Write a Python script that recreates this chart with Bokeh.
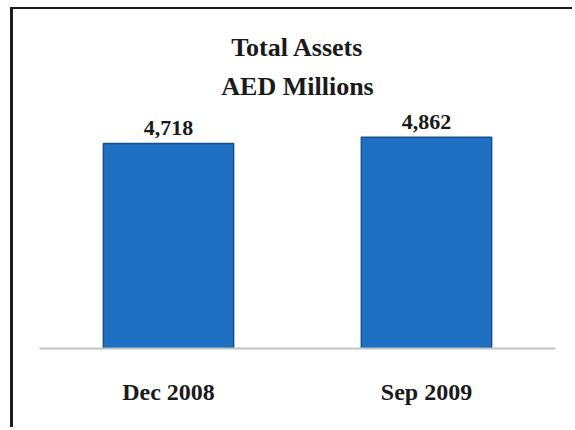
from bokeh.plotting import figure
from bokeh.models import ColumnDataSource, Range1d, Title, FactorRange
from bokeh.embed import file_html
from bokeh.resources import INLINE

categories = ["Dec 2008", "Sep 2009"]
values = [4718, 4862]
value_labels = ["4,718", "4,862"]

src = ColumnDataSource(dict(cat=categories, val=values, lab=value_labels))

FONT = "Liberation Serif"

p = figure(x_range=FactorRange(*categories, range_padding=0), y_range=Range1d(0, 5615),
           width=562, height=420, output_backend="svg", toolbar_location=None,
           min_border_left=26, min_border_right=20, min_border_top=95, min_border_bottom=81)
p.styles = {"border-left": "3px solid #1c1c1c", "border-top": "2px solid #1c1c1c",
            "margin-left": "10px", "margin-top": "7px"}

p.title.text = "Total Assets"
p.title.align = "center"
p.title.text_font = FONT
p.title.text_font_size = "26px"
p.title.text_font_style = "bold"
p.title.text_color = "#1a1a1a"
p.title.standoff = 8
p.add_layout(Title(text="AED Millions", align="center", text_font=FONT, text_font_size="26px",
                   text_font_style="bold", text_color="#1a1a1a", standoff=8), "above")

p.vbar(x="cat", top="val", width=0.505, source=src, fill_color="#1f6fc3",
       line_color="#16508f", line_width=1.5)

p.text(x="cat", y="val", text="lab", source=src, text_align="center", text_baseline="bottom",
       y_offset=-8, text_font={"value": FONT}, text_font_size="22px", text_font_style="bold",
       text_color="#1a1a1a")

p.yaxis.visible = False
p.xgrid.visible = False
p.ygrid.visible = False
p.outline_line_color = None
p.xaxis.axis_line_color = "#c4c4c4"
p.xaxis.axis_line_width = 2
p.xaxis.major_tick_line_color = None
p.xaxis.minor_tick_line_color = None
p.xaxis.major_label_standoff = 24
p.xaxis.major_label_text_font = FONT
p.xaxis.major_label_text_font_size = "24px"
p.xaxis.major_label_text_font_style = "bold"
p.xaxis.major_label_text_color = "#1a1a1a"

open("out.html", "w").write(file_html(p, INLINE))
